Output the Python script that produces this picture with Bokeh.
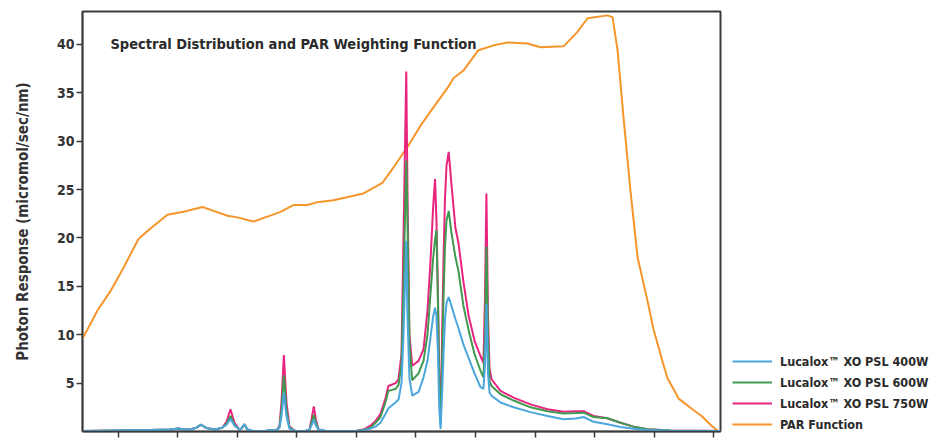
from bokeh.plotting import figure
from bokeh.layouts import row
from bokeh.models import Range1d, FixedTicker, Legend, LegendItem, Label, CustomJSTickFormatter
from bokeh.embed import file_html
from bokeh.resources import INLINE

FONT = "DejaVu Sans Condensed"

# Wavelength (nm) grid for lamp spectra
wl = [381.9, 401.0, 416.1, 426.2, 430.3, 432.8, 436.3, 439.3, 441.7, 444.4,
      448.9, 452.4, 454.5, 456.5, 458.5, 461.0, 462.0, 463.5, 465.0, 467.6,
      474.1, 477.5, 479.7, 481.2, 482.2, 483.4, 484.7, 486.2, 489.2, 494.3,
      496.3, 497.3, 498.5, 499.6, 500.8, 504.4, 514.5, 519.5, 523.5, 527.1,
      529.6, 532.1, 534.6, 536.1, 539.7, 541.2, 542.7, 543.7, 545.1, 545.7,
      546.7, 548.1, 551.3, 553.8, 555.8, 557.3, 558.6, 559.6, 560.3, 561.1,
      561.7, 562.4, 563.1, 563.9, 564.6, 565.4, 566.5, 567.9, 569.9, 571.4,
      573.9, 576.5, 579.5, 582.5, 584.0, 584.8, 585.5, 586.3, 587.1, 588.1,
      592.6, 599.2, 607.7, 616.3, 624.4, 630.4, 634.5, 639.5, 646.5, 653.1,
      659.7, 666.7, 678.3, 703.5]

psl_750 = [0.05, 0.1, 0.15, 0.2, 0.3, 0.2, 0.2, 0.4, 0.7, 0.35,
           0.2, 0.4, 1.0, 2.3, 0.9, 0.2, 0.3, 0.75, 0.2, 0.05,
           0.05, 0.15, 0.1, 0.6, 3.0, 7.9, 3.0, 0.5, 0.05, 0.05,
           0.2, 1.2, 2.6, 1.2, 0.2, 0.05, 0.05, 0.05, 0.2, 0.6,
           1.1, 1.8, 3.4, 4.7, 5.0, 5.4, 8.0, 20.0, 37.2, 25.0,
           10.0, 6.8, 7.3, 8.5, 12.5, 17.5, 23.0, 26.1, 22.0, 14.0,
           6.0, 1.2, 9.0, 18.0, 24.0, 27.5, 28.9, 25.5, 21.0, 19.5,
           15.5, 12.0, 9.4, 7.8, 7.1, 14.0, 24.6, 12.0, 6.4, 5.4,
           4.2, 3.5, 2.8, 2.3, 2.05, 2.1, 2.1, 1.6, 1.37, 0.9,
           0.5, 0.23, 0.1, 0.05]

psl_600 = [0.05, 0.1, 0.15, 0.2, 0.3, 0.2, 0.2, 0.4, 0.7, 0.35,
           0.2, 0.4, 0.8, 1.6, 0.7, 0.2, 0.3, 0.75, 0.2, 0.05,
           0.05, 0.15, 0.1, 0.5, 2.2, 5.8, 2.2, 0.4, 0.05, 0.05,
           0.2, 0.9, 1.7, 0.9, 0.2, 0.05, 0.05, 0.05, 0.15, 0.4,
           0.9, 1.5, 3.0, 4.2, 4.4, 4.8, 7.0, 15.0, 28.0, 22.0,
           9.0, 5.3, 6.0, 7.3, 10.0, 14.2, 17.8, 19.8, 20.8, 13.0,
           5.0, 0.8, 6.5, 14.0, 19.0, 21.8, 22.8, 20.5, 18.0, 16.6,
           13.0, 10.5, 8.0, 6.3, 5.6, 10.0, 19.1, 10.0, 5.2, 4.7,
           3.85, 3.2, 2.5, 2.1, 1.85, 1.9, 1.95, 1.5, 1.37, 0.9,
           0.5, 0.23, 0.1, 0.05]

psl_400 = [0.05, 0.1, 0.15, 0.2, 0.3, 0.2, 0.2, 0.4, 0.7, 0.35,
           0.2, 0.4, 0.7, 1.3, 0.6, 0.2, 0.3, 0.75, 0.2, 0.05,
           0.05, 0.15, 0.1, 0.4, 1.6, 4.0, 1.6, 0.3, 0.05, 0.05,
           0.2, 0.6, 1.2, 0.6, 0.2, 0.05, 0.05, 0.05, 0.1, 0.3,
           0.5, 0.9, 1.8, 2.4, 3.0, 3.3, 5.0, 10.0, 19.7, 12.0,
           5.5, 3.7, 4.1, 5.6, 7.3, 9.7, 11.8, 12.8, 12.0, 8.0,
           2.5, 0.26, 3.5, 8.0, 11.5, 13.3, 13.9, 13.0, 11.6, 10.7,
           9.0, 7.6, 6.0, 4.6, 4.4, 7.0, 13.2, 6.0, 4.0, 3.7,
           3.0, 2.5, 2.0, 1.6, 1.26, 1.35, 1.5, 1.0, 0.74, 0.47,
           0.29, 0.15, 0.08, 0.05]

# PAR weighting function
par_wl = [381.9, 385.9, 389.4, 396.0, 402.5, 410.1, 415.1, 424.7, 432.8, 442.4,
          447.9, 455.0, 460.5, 468.1, 475.1, 481.7, 488.2, 495.3, 500.3, 508.4,
          523.5, 533.1, 538.7, 545.7, 552.3, 558.8, 565.9, 568.9, 573.9, 581.5,
          589.1, 596.1, 606.2, 612.8, 624.4, 631.4, 636.5, 646.5, 649.1, 651.6,
          654.6, 658.1, 661.7, 666.7, 669.7, 674.3, 676.8, 682.4, 690.0, 694.0,
          699.0, 702.5]
par_val = [9.6, 11.1, 12.5, 14.5, 16.9, 19.9, 20.8, 22.4, 22.7, 23.2,
           22.8, 22.3, 22.1, 21.7, 22.2, 22.7, 23.4, 23.4, 23.7, 23.9,
           24.6, 25.7, 27.3, 29.4, 31.6, 33.5, 35.5, 36.5, 37.3, 39.4,
           39.9, 40.2, 40.1, 39.7, 39.8, 41.3, 42.7, 43.0, 42.8, 39.4,
           32.5, 24.9, 18.0, 13.5, 10.6, 7.2, 5.5, 3.4, 2.2, 1.6,
           0.6, 0.0]

x_ticks = [400, 430, 460, 490, 520, 550, 580, 610, 640, 670, 700]
y_ticks = [5, 10, 15, 20, 25, 30, 35, 40]

series_labels = ["Lucalox\u2122 XO PSL 400W", "Lucalox\u2122 XO PSL 600W",
                 "Lucalox\u2122 XO PSL 750W", "PAR Function"]
title_text = "Spectral Distribution and PAR Weighting Function"
y_label = "Photon Response (micromol/sec/nm)"

C_BLUE = "#4ba6dc"
C_GREEN = "#3f9a4f"
C_PINK = "#e8247e"
C_ORANGE = "#f5952a"
INK = "#333333"
FRAME = "#3a3a3a"

p = figure(width=722, height=438, output_backend="svg", toolbar_location=None,
           x_range=Range1d(381.9, 703.5), y_range=Range1d(0, 43.4),
           min_border_left=82, min_border_right=2, min_border_top=11,
           min_border_bottom=7)
p.grid.visible = False
p.outline_line_color = FRAME
p.outline_line_width = 2
p.background_fill_color = "white"
p.border_fill_color = "white"

p.line(par_wl, par_val, line_color=C_ORANGE, line_width=2)
p.line(wl, psl_750, line_color=C_PINK, line_width=2)
p.line(wl, psl_600, line_color=C_GREEN, line_width=2)
p.line(wl, psl_400, line_color=C_BLUE, line_width=2)

# axes
p.xaxis.ticker = FixedTicker(ticks=x_ticks)
p.xaxis.formatter = CustomJSTickFormatter(code="return '';")
p.xaxis.major_label_standoff = 0
p.xaxis.major_tick_out = 6
p.xaxis.major_tick_in = 0
p.xaxis.minor_tick_line_color = None
p.xaxis.axis_line_color = FRAME
p.xaxis.axis_line_width = 1.5
p.xaxis.major_tick_line_color = FRAME
p.xaxis.major_tick_line_width = 1.5

p.yaxis.ticker = FixedTicker(ticks=y_ticks)
p.yaxis.major_tick_out = 6
p.yaxis.major_tick_in = 0
p.yaxis.minor_tick_line_color = None
p.yaxis.axis_line_color = FRAME
p.yaxis.axis_line_width = 1.5
p.yaxis.major_tick_line_color = FRAME
p.yaxis.major_tick_line_width = 1.5
p.yaxis.major_label_standoff = 2
p.yaxis.major_label_text_font = FONT
p.yaxis.major_label_text_font_size = "14px"
p.yaxis.major_label_text_font_style = "bold"
p.yaxis.major_label_text_color = INK
p.yaxis.axis_label = y_label
p.yaxis.axis_label_text_font = FONT
p.yaxis.axis_label_text_font_size = "15px"
p.yaxis.axis_label_text_font_style = "bold"
p.yaxis.axis_label_text_color = INK
p.yaxis.axis_label_standoff = 22

p.add_layout(Label(x=396.0, y=40.0, text=title_text, text_font=FONT,
                   text_font_size="14.5px", text_font_style="bold",
                   text_color="#2a2a2a", text_baseline="middle"))

# legend panel (separate figure at the right); proxies are hidden copies of the series
q = figure(width=221, height=438, output_backend="svg", toolbar_location=None,
           x_axis_type=None, y_axis_type=None,
           x_range=Range1d(0, 1), y_range=Range1d(0, 1),
           min_border=0, outline_line_color=None)
q.grid.visible = False
q.background_fill_color = "white"
q.border_fill_color = "white"
proxy_data = [(wl, psl_400, C_BLUE), (wl, psl_600, C_GREEN),
              (wl, psl_750, C_PINK), (par_wl, par_val, C_ORANGE)]
items = []
for lab, (xs, ys, col) in zip(series_labels, proxy_data):
    rr = q.line(xs, ys, line_color=col, line_width=2, visible=False)
    items.append(LegendItem(label=lab, renderers=[rr]))

legend = Legend(items=items, location=(10, -3), orientation="vertical",
                border_line_color=None, background_fill_alpha=0,
                glyph_width=40, glyph_height=20, label_height=20,
                spacing=1, padding=0, margin=0, label_standoff=8,
                label_text_font=FONT, label_text_font_size="12.5px",
                label_text_font_style="bold", label_text_color="#2a2a2a")
q.add_layout(legend, "center")

layout = row(p, q)
open("out.html", "w").write(file_html(layout, INLINE))
